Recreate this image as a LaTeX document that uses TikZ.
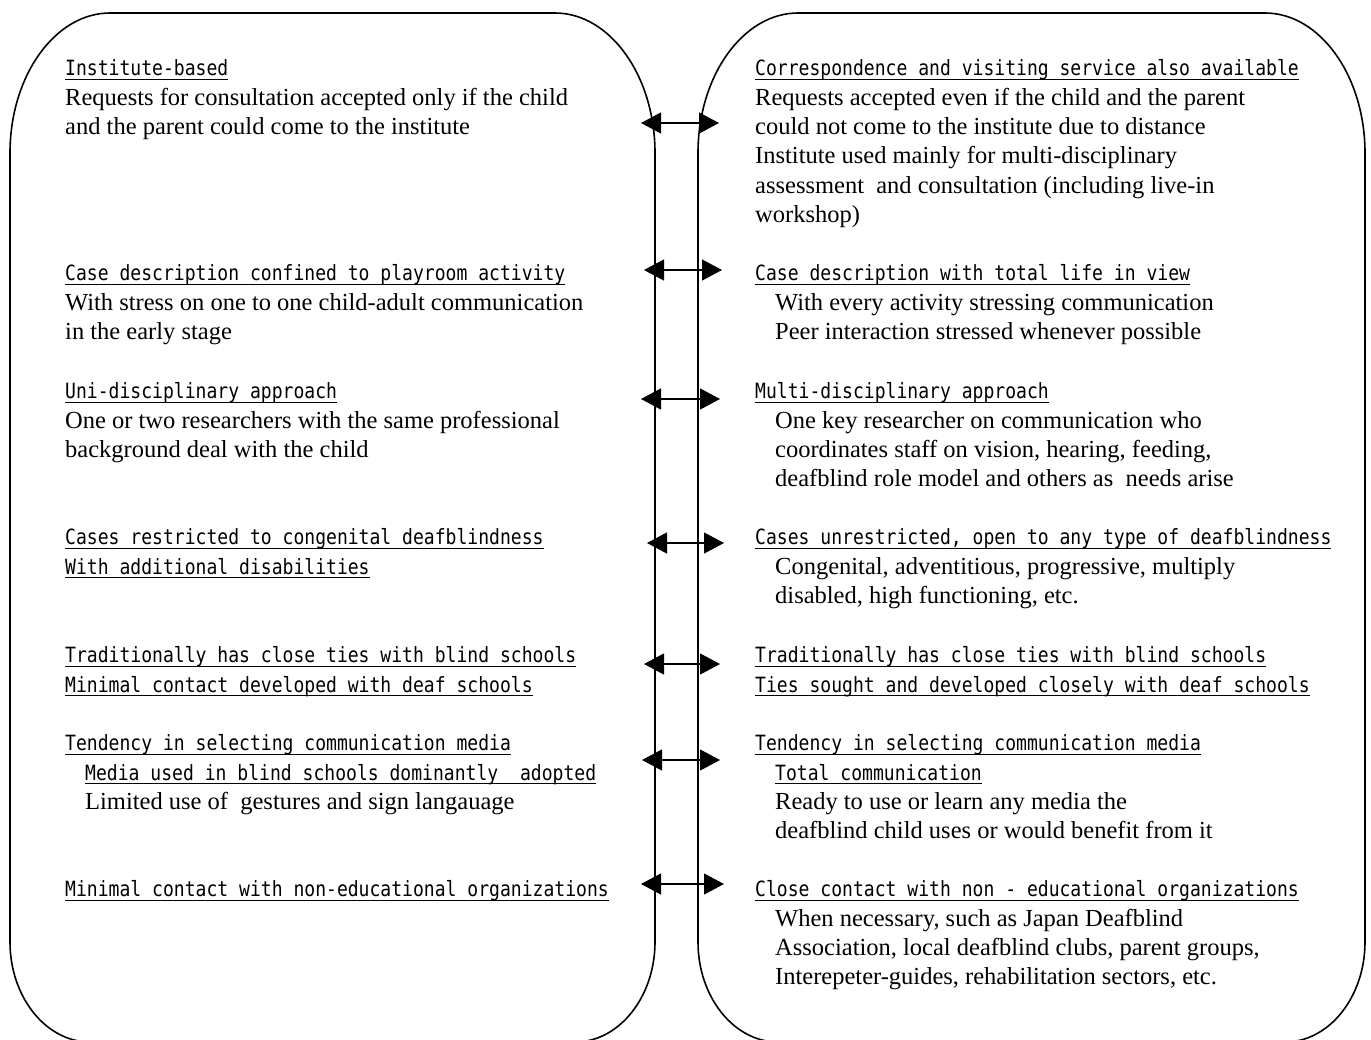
\documentclass[tikz,border=0pt]{standalone}
\usepackage{fontspec}
\setmainfont{Liberation Serif}
\newfontfamily\hdfont[FakeStretch=0.86]{DejaVu Sans Mono}
\usepackage{tikz}
\usetikzlibrary{arrows.meta,positioning}

% underlined heading line
\newcommand{\hd}[1]{{\hdfont\fontsize{21pt}{29.4pt}\selectfont
  \setbox0\hbox{#1}\rlap{\rule[-4pt]{\wd0}{1.1pt}}\box0}}

\begin{document}
\begin{tikzpicture}[
  x=1pt, y=-1pt,
  panel/.style={draw=black, line width=1.6pt},
  txt/.style={
    anchor=north west,
    inner sep=0pt,
    align=left,
    font=\fontsize{24.5pt}{29.4pt}\selectfont
  },
  biarrow/.style={{Triangle[length=20pt,width=21pt]}-{Triangle[length=20pt,width=21pt]},line width=1.2pt}
]
\useasboundingbox (0,0) rectangle (1371,1039);

% the two panels
\draw[panel] (10,153) -- (10,942) .. controls (10,997) and (46,1042) .. (90,1042)
  -- (575,1042) .. controls (619,1042) and (655,997) .. (655,942)
  -- (655,153) .. controls (655,76) and (610,13) .. (555,13)
  -- (110,13) .. controls (55,13) and (10,76) .. cycle;
\draw[panel] (698,153) -- (698,942) .. controls (698,997) and (734,1042) .. (778,1042)
  -- (1285,1042) .. controls (1329,1042) and (1365,997) .. (1365,942)
  -- (1365,153) .. controls (1365,76) and (1320,13) .. (1265,13)
  -- (798,13) .. controls (743,13) and (698,76) .. cycle;

% left side
\node[txt] (inst) at (65,54.9) {\strut\hd{Institute-based}\\
  Requests for consultation accepted only if the child\\
  and the parent could come to the institute};
\node[txt] (play) at (65,259.9) {\strut\hd{Case description confined to playroom activity}\\
  With stress on one to one child-adult communication\\
  in the early stage};
\node[txt] (uni) at (65,377.9) {\strut\hd{Uni-disciplinary approach}\\
  One or two researchers with the same professional\\
  background deal with the child};
\node[txt] (cong) at (65,523.9) {\strut\hd{Cases restricted to congenital deafblindness}\\
  \hd{With additional disabilities}};
\node[txt] (tiesl) at (65,641.9) {\strut\hd{Traditionally has close ties with blind schools}\\
  \hd{Minimal contact developed with deaf schools}};
\node[txt] (medl) at (65,729.9) {\strut\hd{Tendency in selecting communication media}\\
  \hspace*{20pt}\hd{Media used in blind schools dominantly\ \ adopted}\\
  \hspace*{20pt}Limited use of\ \ gestures and sign langauage};
\node[txt] (nonl) at (65,875.9) {\strut\hd{Minimal contact with non-educational organizations}};

% right side
\node[txt] (corr) at (755,54.9) {\strut\hd{Correspondence and visiting service also available}\\
  Requests accepted even if the child and the parent\\
  could not come to the institute due to distance\\
  Institute used mainly for multi-disciplinary\\
  assessment\ \ and consultation (including live-in\\
  workshop)};
\node[txt] (life) at (755,259.9) {\strut\hd{Case description with total life in view}\\
  \hspace*{20pt}With every activity stressing communication\\
  \hspace*{20pt}Peer interaction stressed whenever possible};
\node[txt] (multi) at (755,377.9) {\strut\hd{Multi-disciplinary approach}\\
  \hspace*{20pt}One key researcher on communication who\\
  \hspace*{20pt}coordinates staff on vision, hearing, feeding,\\
  \hspace*{20pt}deafblind role model and others as\ \ needs arise};
\node[txt] (open) at (755,523.9) {\strut\hd{Cases unrestricted, open to any type of deafblindness}\\
  \hspace*{20pt}Congenital, adventitious, progressive, multiply\\
  \hspace*{20pt}disabled, high functioning, etc.};
\node[txt] (tiesr) at (755,641.9) {\strut\hd{Traditionally has close ties with blind schools}\\
  \hd{Ties sought and developed closely with deaf schools}};
\node[txt] (medr) at (755,729.9) {\strut\hd{Tendency in selecting communication media}\\
  \hspace*{20pt}\hd{Total communication}\\
  \hspace*{20pt}Ready to use or learn any media the\\
  \hspace*{20pt}deafblind child uses or would benefit from it};
\node[txt] (nonr) at (755,875.9) {\strut\hd{Close contact with non - educational organizations}\\
  \hspace*{20pt}When necessary, such as Japan Deafblind\\
  \hspace*{20pt}Association, local deafblind clubs, parent groups,\\
  \hspace*{20pt}Interepeter-guides, rehabilitation sectors, etc.};

% arrow ends
\coordinate (a1l) at (641,123); \coordinate (a1r) at (719,123);
\coordinate (a2l) at (644,270); \coordinate (a2r) at (722,270);
\coordinate (a3l) at (641,399); \coordinate (a3r) at (720,399);
\coordinate (a4l) at (647,543); \coordinate (a4r) at (724,543);
\coordinate (a5l) at (644,664); \coordinate (a5r) at (720,664);
\coordinate (a6l) at (642,760); \coordinate (a6r) at (720,760);
\coordinate (a7l) at (641,884); \coordinate (a7r) at (724,884);

\draw[biarrow] (a1l) -- (a1r);
\draw[biarrow] (a2l) -- (a2r);
\draw[biarrow] (a3l) -- (a3r);
\draw[biarrow] (a4l) -- (a4r);
\draw[biarrow] (a5l) -- (a5r);
\draw[biarrow] (a6l) -- (a6r);
\draw[biarrow] (a7l) -- (a7r);
\end{tikzpicture}
\end{document}
